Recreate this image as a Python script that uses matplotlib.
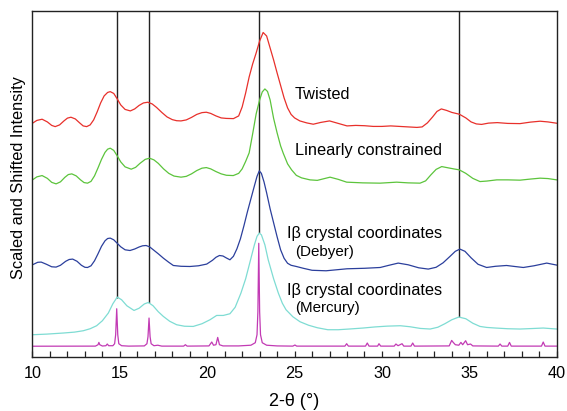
import numpy as np
import matplotlib
matplotlib.use('Agg')
import matplotlib.pyplot as plt
import matplotlib.ticker as ticker

plt.rcParams['font.family'] = ['Liberation Sans', 'DejaVu Sans']

# 2-theta positions and scaled/shifted intensities

twisted_x = [10.0, 10.25, 10.55, 10.85, 11.1, 11.3, 11.55, 11.8, 12.0, 12.2, 12.45, 12.7, 12.9, 13.1,
             13.3, 13.5, 13.7, 13.9, 14.1, 14.3, 14.45, 14.65, 14.85, 15.05, 15.3, 15.6, 15.85, 16.1,
             16.35, 16.6, 16.85, 17.1, 17.4, 17.7, 18.0, 18.25, 18.5, 18.8, 19.1, 19.4, 19.7, 19.95,
             20.2, 20.5, 20.8, 21.1, 21.5, 21.8, 22.0, 22.2, 22.4, 22.6, 22.8, 23.0, 23.2, 23.4,
             23.6, 23.8, 24.0, 24.2, 24.4, 24.6, 24.8, 25.0, 25.3, 25.7, 26.07, 26.5, 27.0, 27.5,
             28.0, 28.5, 29.0, 29.5, 30.0, 30.5, 31.0, 31.5, 32.0, 32.3, 32.6, 32.9, 33.15, 33.4,
             33.7, 34.0, 34.43, 34.8, 35.1, 35.4, 35.7, 36.1, 36.6, 37.2, 37.9, 38.5, 39.05, 39.5, 40.0]
twisted_y = [233.7, 236.5, 237.7, 235.0, 231.5, 230.3, 232.0, 236.0, 238.8, 239.7, 238.0, 234.0, 231.0, 230.3,
             232.0, 237.0, 245.0, 254.0, 261.0, 264.5, 265.3, 263.5, 258.0, 252.0, 247.5, 246.0, 248.0, 251.5,
             254.0, 254.7, 253.0, 249.5, 244.5, 240.0, 237.3, 236.2, 236.0, 237.0, 239.5, 242.5, 244.3, 244.7,
             243.5, 241.0, 239.0, 238.5, 238.3, 241.0, 250.0, 264.0, 280.0, 293.0, 304.0, 316.0, 324.5, 321.0,
             309.0, 297.0, 284.0, 271.5, 259.0, 249.0, 242.5, 239.0, 236.0, 234.0, 232.7, 234.5, 236.0, 233.5,
             231.0, 231.5, 231.2, 230.5, 230.5, 231.0, 230.5, 230.0, 229.5, 230.0, 234.0, 240.0, 245.5, 248.0,
             246.5, 244.5, 242.7, 239.0, 235.0, 233.0, 232.5, 233.8, 234.3, 233.5, 233.3, 234.8, 235.7, 235.0, 233.7]

linear_x = [10.0, 10.25, 10.55, 10.85, 11.1, 11.35, 11.6, 11.85, 12.05, 12.25, 12.5, 12.75, 12.95, 13.15,
            13.35, 13.55, 13.75, 13.95, 14.15, 14.3, 14.45, 14.65, 14.85, 15.05, 15.3, 15.65, 15.9, 16.15,
            16.45, 16.7, 16.95, 17.2, 17.5, 17.8, 18.1, 18.5, 18.8, 19.1, 19.4, 19.7, 19.95, 20.2,
            20.5, 20.8, 21.1, 21.49, 21.8, 22.0, 22.2, 22.4, 22.6, 22.8, 23.0, 23.15, 23.3, 23.45,
            23.6, 23.8, 24.0, 24.2, 24.35, 24.6, 24.83, 25.1, 25.4, 25.88, 26.3, 27.03, 27.5, 27.98,
            28.9, 29.89, 30.84, 31.5, 32.18, 32.5, 32.8, 33.1, 33.42, 33.8, 34.1, 34.43, 34.8, 35.2,
            35.61, 36.0, 36.57, 37.2, 37.9, 38.5, 39.05, 39.5, 40.0]
linear_y = [177.0, 180.0, 181.3, 178.5, 174.5, 173.0, 175.0, 179.5, 182.3, 183.0, 181.0, 177.0, 174.3, 173.7,
            175.5, 181.0, 189.0, 197.5, 204.5, 207.7, 208.7, 206.5, 201.0, 195.0, 190.0, 187.7, 189.5, 193.5,
            197.5, 198.7, 197.0, 193.5, 188.0, 183.5, 180.8, 179.7, 180.5, 183.0, 186.3, 188.7, 189.3, 188.0,
            185.3, 183.0, 181.6, 181.3, 183.5, 188.0, 195.5, 204.0, 223.0, 243.0, 257.0, 265.0, 268.0, 265.5,
            257.0, 238.5, 224.0, 211.0, 203.7, 193.0, 187.0, 181.5, 179.0, 177.0, 176.5, 179.7, 177.5, 174.7,
            174.0, 173.7, 174.7, 174.0, 173.7, 176.0, 182.0, 187.5, 190.3, 189.0, 188.0, 187.0, 183.5, 178.5,
            175.3, 175.8, 177.0, 177.0, 176.7, 177.8, 178.7, 178.3, 177.0]

debyer_x = [10.0, 10.3, 10.5, 10.8, 11.1, 11.35, 11.6, 11.9, 12.1, 12.3, 12.55, 12.8, 13.0, 13.15,
            13.35, 13.55, 13.75, 13.95, 14.15, 14.3, 14.45, 14.65, 14.85, 15.05, 15.3, 15.58, 15.85, 16.1,
            16.3, 16.5, 16.7, 16.95, 17.2, 17.5, 17.8, 18.06, 18.5, 19.01, 19.5, 19.97, 20.3, 20.5,
            20.7, 20.9, 21.1, 21.3, 21.5, 21.7, 21.9, 22.1, 22.3, 22.5, 22.7, 22.85, 22.98, 23.1,
            23.25, 23.4, 23.6, 23.8, 24.0, 24.2, 24.4, 24.6, 24.8, 25.1, 25.5, 26.0, 26.8, 27.4,
            28.0, 29.0, 29.9, 30.4, 30.93, 31.5, 32.1, 32.65, 33.1, 33.5, 33.9, 34.2, 34.46, 34.75,
            35.1, 35.5, 35.99, 36.5, 37.13, 37.6, 38.09, 38.7, 39.43, 40.0]
debyer_y = [92.0, 94.5, 94.7, 92.5, 90.0, 89.7, 91.5, 95.5, 97.3, 97.7, 95.5, 91.5, 89.5, 89.3,
            91.0, 96.0, 103.0, 110.5, 116.0, 118.3, 118.7, 117.0, 113.5, 110.0, 107.0, 106.3, 107.8, 109.8,
            111.0, 111.3, 110.0, 106.5, 103.0, 98.5, 94.5, 91.3, 90.5, 90.3, 91.0, 92.7, 96.5, 99.5,
            101.3, 100.8, 98.8, 97.0, 100.5, 108.0, 118.0, 131.0, 145.0, 158.0, 171.0, 180.5, 186.0, 183.5,
            175.0, 164.0, 148.0, 134.0, 120.0, 107.0, 98.5, 93.5, 91.5, 90.3, 88.5, 86.5, 86.0, 87.0,
            88.0, 88.5, 89.3, 91.5, 93.7, 92.0, 89.0, 87.7, 89.5, 94.0, 100.5, 105.5, 107.7, 105.5,
            99.0, 92.5, 89.3, 90.5, 91.3, 90.3, 89.3, 91.0, 93.7, 91.7]

mercury_x = [10.0, 10.8, 11.76, 12.4, 12.91, 13.3, 13.67, 14.0, 14.34, 14.6, 14.85, 15.1, 15.4, 15.81,
             16.1, 16.4, 16.63, 16.9, 17.2, 17.49, 17.85, 18.25, 18.7, 19.2, 19.7, 20.16, 20.54, 20.92,
             21.3, 21.6, 21.93, 22.2, 22.48, 22.7, 22.85, 22.98, 23.1, 23.3, 23.49, 23.8, 24.07, 24.3,
             24.51, 24.9, 25.31, 25.8, 26.3, 26.9, 27.5, 28.2, 28.92, 29.6, 30.3, 31.05, 31.6, 32.2,
             32.76, 33.2, 33.6, 34.0, 34.4, 34.8, 35.2, 35.61, 36.0, 36.5, 37.2, 37.9, 38.6, 39.23, 40.0]
mercury_y = [22.0, 22.6, 23.7, 24.6, 26.0, 28.0, 31.0, 36.0, 43.7, 53.0, 59.7, 57.0, 51.0, 46.3,
             48.5, 52.8, 54.3, 51.0, 45.0, 40.3, 35.5, 32.0, 30.5, 30.3, 33.0, 37.0, 41.3, 41.3,
             43.0, 49.5, 63.7, 78.0, 97.0, 112.0, 120.5, 123.7, 122.0, 112.0, 97.0, 78.0, 63.7, 53.5,
             47.0, 40.0, 35.0, 31.5, 29.0, 27.0, 27.0, 27.8, 28.7, 29.8, 30.6, 31.0, 30.0, 28.3,
             27.7, 29.5, 33.0, 37.0, 39.7, 38.0, 33.5, 30.3, 29.3, 28.7, 28.0, 27.7, 28.2, 28.7, 27.7]

reference_x = [10.0, 13.6, 13.75, 13.8, 13.85, 14.0, 14.2, 14.28, 14.36, 14.6, 14.7, 14.76, 14.82, 14.88,
               14.94, 15.1, 15.5, 16.4, 16.55, 16.61, 16.67, 16.73, 16.79, 16.95, 17.17, 17.4, 18.65, 18.75,
               18.85, 20.1, 20.26, 20.36, 20.5, 20.6, 20.7, 20.9, 21.8, 22.5, 22.75, 22.85, 22.9, 22.95,
               23.0, 23.05, 23.15, 23.4, 24.0, 24.9, 25.02, 25.12, 27.88, 27.98, 28.08, 29.06, 29.16, 29.26,
               29.75, 29.83, 29.93, 30.7, 30.8, 30.92, 31.15, 31.25, 31.66, 31.76, 31.86, 33.85, 33.99, 34.08,
               34.2, 34.4, 34.52, 34.62, 34.79, 34.9, 35.07, 35.2, 36.66, 36.76, 36.86, 37.2, 37.3, 37.4,
               39.13, 39.23, 39.33, 40.0]
reference_y = [10.5, 10.6, 12.0, 14.3, 12.0, 10.7, 11.0, 12.7, 11.0, 11.0, 13.0, 22.0, 48.0, 22.0,
               13.0, 11.0, 10.6, 10.8, 13.0, 20.0, 38.7, 20.0, 13.0, 11.0, 11.5, 10.6, 10.6, 12.0,
               10.6, 10.8, 14.7, 11.5, 12.0, 19.3, 12.0, 10.8, 10.8, 11.5, 14.0, 22.0, 45.0, 113.5,
               45.0, 22.0, 14.0, 11.5, 10.8, 10.6, 11.7, 10.6, 10.6, 13.0, 10.6, 10.6, 13.7, 10.6,
               10.6, 13.0, 10.6, 10.6, 12.7, 11.0, 13.0, 10.6, 10.6, 13.7, 10.6, 10.8, 16.3, 14.3,
               12.0, 11.5, 14.3, 12.0, 16.0, 12.0, 12.7, 10.8, 10.6, 12.7, 10.6, 10.6, 14.3, 10.6,
               10.6, 14.7, 10.6, 10.6]

peak_marks = [14.82, 16.67, 22.98, 34.43]

fig = plt.figure(figsize=(5.67, 4.11), dpi=100)
ax = fig.add_axes([0.0573, 0.1321, 0.9245, 0.8411])

ax.plot(twisted_x, twisted_y, color='#e8302b', lw=0.9)
ax.plot(linear_x, linear_y, color='#5cc43c', lw=0.9)
ax.plot(debyer_x, debyer_y, color='#2b3f9c', lw=0.9)
ax.plot(mercury_x, mercury_y, color='#7edcd3', lw=0.9)
ax.plot(reference_x, reference_y, color='#c23ab4', lw=0.9)

top = 346
for px in peak_marks:
    ax.vlines(px, np.interp(px, mercury_x, mercury_y), top, color='#222222', lw=1.0, zorder=1)

ax.text(25.02, 262.7, 'Twisted', fontsize=11.8, va='center', ha='left')
ax.text(25.02, 206, 'Linearly constrained', fontsize=11.8, va='center', ha='left')
ax.text(24.55, 123, 'I\u03b2 crystal coordinates', fontsize=11.8, va='center', ha='left')
ax.text(25.02, 104.7, '(Debyer)', fontsize=10.9, va='center', ha='left')
ax.text(24.55, 66.3, 'I\u03b2 crystal coordinates', fontsize=11.8, va='center', ha='left')
ax.text(25.02, 48.7, '(Mercury)', fontsize=10.9, va='center', ha='left')

ax.set_xlim(10, 40)
ax.set_ylim(0, top)
ax.xaxis.set_major_locator(ticker.MultipleLocator(5))
ax.xaxis.set_minor_locator(ticker.MultipleLocator(1))
ax.tick_params(axis='x', which='both', direction='in', length=4.5, width=0.9, color='#222222',
               labelsize=11.7, pad=7)
ax.set_yticks([])
for s in ax.spines.values():
    s.set_color('#222222')
    s.set_linewidth(1.0)

ax.set_xlabel('2-\u03b8 (\u00b0)', fontsize=13, labelpad=8)
ax.set_ylabel('Scaled and Shifted Intensity', fontsize=11.8)
ax.yaxis.set_label_coords(-0.013, 0.518)

plt.savefig('out.png', dpi=100)
